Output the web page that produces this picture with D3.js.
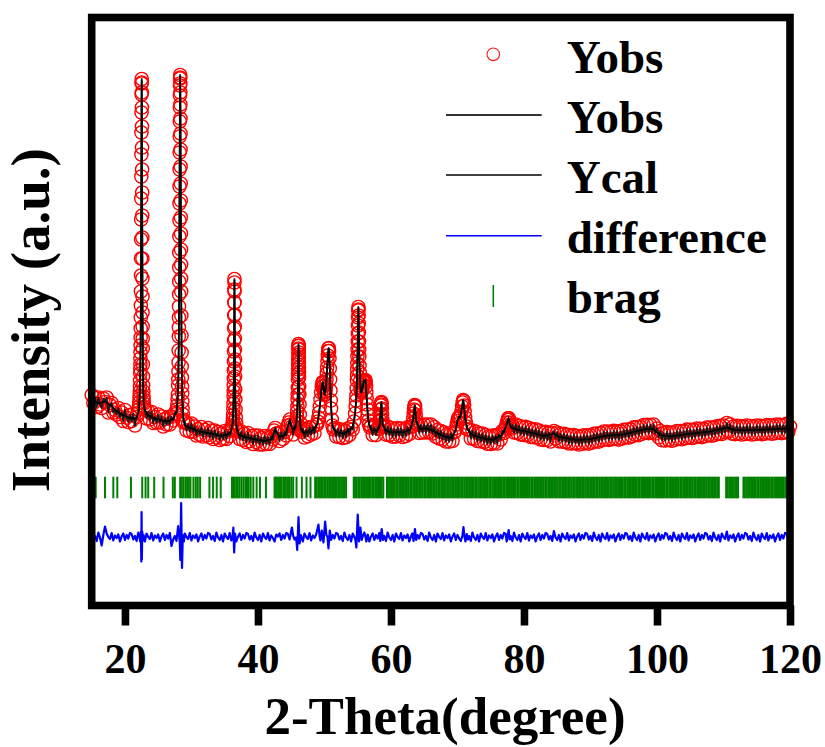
<!DOCTYPE html>
<html><head><meta charset="utf-8">
<script src="https://cdn.jsdelivr.net/npm/d3@7/dist/d3.min.js"></script>
<style>body{margin:0;background:#fff}svg{display:block}</style>
</head><body>
<svg id="c" width="825" height="747"></svg>
<script>
// ---------------- data ----------------
const xTicks = [20, 40, 60, 80, 100, 120];
const xTitle = "2-Theta(degree)";
const yTitle = "Intensity (a.u.)";
const legendLabels = ["Yobs", "Yobs", "Ycal", "difference", "brag"];

// observed intensity [2theta, counts]
const yobs = [
[15.0,2105],[15.25,2025],[15.5,2075],[15.75,1985],[16.0,2080],[16.25,2010],[16.5,1975],[16.75,2070],[17.0,2035],[17.25,2080],[17.5,1930],[17.75,2005],[18.0,2025],[18.25,1930],[18.5,1955],[18.75,1910],[19.0,1975],[19.25,1885],[19.5,1930],[19.75,1845],[20.0,1955],[20.25,1878],[20.5,1835],[20.75,1905],[21.0,1845],[21.25,1915],[21.5,1800],[21.75,1885],[22.0,1925],
[22.08,1960],[22.12,1990],[22.16,2030],[22.2,2070],[22.22,2100],[22.24,2140],[22.26,2190],[22.28,2250],[22.3,2320],[22.31,2360],[22.32,2410],[22.33,2470],[22.34,2530],[22.35,2600],[22.36,2680],[22.37,2770],[22.38,2880],[22.39,3000],[22.4,3140],[22.41,3300],[22.42,3470],[22.43,3660],[22.44,3860],[22.45,4070],[22.46,4290],[22.47,4510],[22.48,4730],[22.49,4930],[22.5,5110],[22.51,5220],[22.52,5265],[22.53,5230],[22.54,5130],[22.55,4980],[22.56,4790],[22.57,4580],[22.58,4360],[22.59,4130],[22.6,3900],[22.61,3680],[22.62,3470],[22.63,3270],[22.64,3090],[22.65,2930],[22.66,2790],[22.67,2670],[22.68,2570],[22.7,2410],[22.72,2290],[22.74,2200],[22.76,2140],[22.78,2090],[22.8,2060],[22.84,2020],[22.9,1985],[22.95,1960],
[23.0,1960],[23.25,1870],[23.5,1940],[23.75,1860],[24.0,1935],[24.25,1825],[24.5,1885],[24.75,1830],[25.0,1910],[25.25,1830],[25.5,1890],[25.75,1790],[26.0,1865],[26.25,1810],[26.5,1885],[26.75,1810],[27.0,1890],[27.25,1850],[27.5,1925],[27.7,1915],
[27.8,1960],[27.86,2000],[27.92,2060],[27.96,2110],[28.0,2200],[28.02,2260],[28.04,2340],[28.06,2430],[28.08,2550],[28.1,2690],[28.11,2780],[28.12,2880],[28.13,2990],[28.14,3110],[28.15,3240],[28.16,3380],[28.17,3530],[28.18,3690],[28.19,3850],[28.2,4020],[28.21,4190],[28.22,4360],[28.23,4530],[28.24,4690],[28.25,4840],[28.26,4980],[28.27,5100],[28.28,5200],[28.29,5270],[28.3,5305],[28.31,5280],[28.32,5220],[28.33,5130],[28.34,5010],[28.35,4870],[28.36,4720],[28.37,4560],[28.38,4390],[28.39,4220],[28.4,4050],[28.41,3880],[28.42,3720],[28.43,3560],[28.44,3410],[28.45,3270],[28.46,3140],[28.48,2900],[28.5,2700],[28.52,2530],[28.54,2390],[28.56,2280],[28.58,2190],[28.6,2120],[28.63,2040],[28.67,1970],[28.72,1910],[28.78,1860],[28.85,1830],
[29.0,1840],[29.25,1750],[29.5,1815],[29.75,1738],[30.0,1820],[30.25,1737],[30.5,1790],[30.75,1700],[31.0,1765],[31.25,1707],[31.5,1785],[31.75,1690],[32.0,1755],[32.25,1698],[32.5,1775],[32.75,1682],[33.0,1750],[33.25,1665],[33.5,1750],[33.75,1680],[34.0,1735],[34.25,1655],[34.5,1720],[34.75,1665],[35.0,1745],[35.25,1665],[35.5,1740],[35.75,1695],[36.0,1760],
[36.1,1780],[36.15,1800],[36.2,1830],[36.24,1870],[36.27,1910],[36.3,1970],[36.32,2020],[36.34,2090],[36.35,2140],[36.36,2200],[36.37,2270],[36.38,2350],[36.39,2440],[36.4,2540],[36.41,2650],[36.42,2770],[36.43,2900],[36.44,3030],[36.45,3160],[36.46,3265],[36.47,3230],[36.48,3140],[36.49,3030],[36.5,2910],[36.51,2790],[36.52,2670],[36.53,2560],[36.54,2460],[36.55,2370],[36.56,2290],[36.58,2160],[36.6,2060],[36.63,1960],[36.67,1880],[36.72,1820],[36.8,1770],[36.9,1740],
[37.0,1750],[37.25,1665],[37.5,1740],[37.75,1655],[38.0,1715],[38.25,1635],[38.5,1725],[38.75,1642],[39.0,1695],[39.25,1615],[39.5,1700],[39.75,1633],[40.0,1700],[40.25,1610],[40.5,1678],[40.75,1610],[41.0,1695],[41.25,1615],[41.5,1685],[41.75,1615],[42.0,1690],[42.25,1660],[42.45,1750],[42.6,1775],[42.75,1720],[43.0,1725],[43.25,1645],[43.5,1730],[43.75,1665],[44.0,1735],[44.25,1700],[44.5,1800],[44.65,1830],[44.8,1860],[44.95,1810],[45.1,1790],[45.3,1710],[45.5,1790],[45.65,1770],[45.75,1820],
[45.82,1850],[45.86,1890],[45.9,1940],[45.93,1990],[45.96,2060],[45.98,2110],[46.0,2180],[46.02,2260],[46.03,2310],[46.04,2360],[46.05,2410],[46.06,2460],[46.07,2510],[46.08,2560],[46.09,2595],[46.1,2615],[46.11,2600],[46.12,2570],[46.13,2530],[46.14,2480],[46.15,2430],[46.16,2380],[46.17,2330],[46.18,2280],[46.2,2190],[46.22,2110],[46.25,2010],[46.29,1910],[46.34,1830],[46.4,1780],[46.5,1750],[46.6,1735],
[46.75,1765],[47.0,1680],[47.25,1763],[47.5,1692],[47.75,1781],[48.0,1710],[48.25,1788],[48.5,1723],[48.75,1805],
[48.9,1810],[49.0,1840],[49.1,1880],[49.2,1930],[49.3,1990],[49.4,2060],[49.5,2130],[49.6,2190],[49.7,2225],[49.75,2235],[49.8,2225],[49.85,2190],[49.9,2160],[49.95,2130],[50.0,2110],[50.05,2105],[50.1,2115],[50.15,2140],[50.2,2170],[50.25,2210],[50.3,2260],[50.35,2320],[50.4,2380],[50.45,2440],[50.5,2500],[50.55,2545],[50.6,2570],[50.65,2575],[50.7,2545],[50.75,2470],[50.8,2370],[50.85,2260],[50.9,2150],[50.95,2050],[51.0,1970],[51.1,1860],[51.2,1800],[51.35,1760],
[51.5,1775],[51.75,1690],[52.0,1767],[52.25,1685],[52.5,1760],[52.75,1675],[53.0,1750],[53.25,1682],[53.5,1770],[53.75,1705],[54.0,1785],[54.25,1760],[54.45,1840],
[54.6,1920],[54.7,1990],[54.76,2050],[54.8,2100],[54.84,2170],[54.88,2250],[54.9,2300],[54.92,2360],[54.94,2420],[54.96,2490],[54.98,2560],[55.0,2640],[55.02,2720],[55.04,2800],[55.06,2880],[55.08,2950],[55.1,2985],[55.12,2960],[55.14,2900],[55.16,2820],[55.18,2730],[55.2,2640],[55.22,2560],[55.24,2490],[55.27,2400],[55.3,2330],[55.35,2240],[55.4,2180],[55.45,2150],[55.5,2130],[55.55,2130],[55.6,2140],[55.65,2150],[55.7,2170],[55.75,2190],[55.8,2210],[55.85,2230],[55.9,2240],[55.95,2250],[56.0,2245],[56.05,2240],[56.1,2250],[56.15,2255],[56.2,2230],[56.25,2190],[56.3,2130],[56.35,2070],[56.4,2010],[56.45,1960],[56.5,1910],[56.6,1850],[56.7,1810],[56.85,1780],
[57.0,1795],[57.25,1705],[57.5,1783],[57.75,1703],[58.0,1775],[58.2,1765],
[58.3,1810],[58.36,1850],[58.42,1910],[58.46,1960],[58.5,2000],[58.53,2025],[58.56,2035],[58.59,2010],[58.62,1970],[58.66,1910],[58.7,1860],[58.76,1810],[58.85,1785],
[59.0,1790],[59.25,1708],[59.5,1790],[59.75,1705],[60.0,1775],[60.25,1687],[60.5,1765],[60.75,1690],[61.0,1775],[61.25,1700],[61.5,1770],[61.75,1685],[62.0,1762],[62.25,1695],[62.5,1783],[62.75,1715],[63.0,1785],
[63.15,1790],[63.25,1820],[63.35,1870],[63.42,1920],[63.48,1960],[63.54,1995],[63.58,2005],[63.62,1990],[63.67,1950],[63.72,1900],[63.8,1850],[63.9,1810],
[64.0,1810],[64.25,1725],[64.5,1805],[64.75,1730],[65.0,1810],[65.25,1730],[65.5,1810],[65.75,1732],[66.0,1810],[66.25,1720],[66.5,1785],[66.75,1687],[67.0,1755],[67.25,1670],[67.5,1745],[67.75,1660],[68.0,1730],[68.25,1640],[68.5,1717],[68.75,1638],[69.0,1720],[69.25,1645],[69.5,1730],
[69.65,1740],[69.8,1775],[69.9,1810],[70.0,1845],[70.1,1870],[70.2,1885],[70.3,1880],[70.4,1880],[70.5,1900],[70.6,1940],[70.7,1990],[70.78,2030],[70.85,2055],[70.92,2045],[71.0,2000],[71.08,1940],[71.16,1880],[71.25,1830],[71.35,1790],[71.5,1760],
[71.75,1760],[72.0,1670],[72.25,1750],[72.5,1667],[72.75,1740],[73.0,1645],[73.25,1720],[73.5,1640],[73.75,1720],[74.0,1635],[74.25,1705],[74.5,1617],[74.75,1693],[75.0,1615],[75.25,1700],[75.5,1623],[75.75,1702],[76.0,1620],[76.25,1710],[76.5,1660],[76.75,1745],[77.0,1725],
[77.2,1770],[77.35,1800],[77.45,1830],[77.55,1855],[77.62,1870],[77.68,1875],[77.75,1860],[77.82,1830],[77.9,1800],[78.0,1785],[78.15,1770],
[78.25,1805],[78.5,1730],[78.75,1810],[79.0,1725],[79.25,1797],[79.5,1708],[79.75,1785],[80.0,1705],[80.25,1787],[80.5,1703],[80.75,1774],[81.0,1685],[81.25,1761],[81.5,1682],[81.75,1763],[82.0,1680],[82.25,1750],[82.5,1660],[82.75,1735],[83.0,1655],[83.25,1737],[83.5,1655],[83.75,1728],[84.0,1640],[84.25,1725],[84.5,1745],[84.75,1670],[85.0,1730],[85.25,1641],[85.5,1717],[85.75,1638],[86.0,1717],[86.25,1635],[86.5,1708],[86.75,1620],[87.0,1698],[87.25,1621],[87.5,1704],[87.75,1622],[88.0,1695],[88.25,1610],[88.5,1691],[88.75,1617],[89.0,1703],[89.25,1624],[89.5,1701],[89.75,1618],[90.0,1700],[90.25,1628],[90.5,1717],[90.75,1641],[91.0,1720],[91.25,1639],[91.5,1723],[91.75,1652],[92.0,1740],[92.25,1662],[92.5,1739],[92.75,1656],[93.0,1737],[93.25,1662],[93.5,1747],[93.75,1667],[94.0,1742],[94.25,1659],[94.5,1741],[94.75,1669],[95.0,1757],[95.25,1681],[95.5,1760],[95.75,1679],[96.0,1762],[96.25,1691],[96.5,1781],[96.75,1706],[97.0,1785],[97.25,1704],[97.5,1788],[97.75,1717],[98.0,1805],[98.25,1728],[98.5,1806],[98.75,1723],[99.0,1805],[99.25,1729],[99.5,1810],[99.75,1720],[100.0,1770],[100.25,1682],[100.5,1745],[100.75,1652],[101.0,1725],[101.25,1650],[101.5,1735],[101.75,1655],[102.0,1730],[102.25,1647],[102.5,1730],[102.75,1657],[103.0,1745],[103.25,1667],[103.5,1745],[103.75,1662],[104.0,1745],[104.25,1672],[104.5,1759],[104.75,1681],[105.0,1758],[105.25,1675],[105.5,1756],[105.75,1683],[106.0,1770],[106.25,1691],[106.5,1768],[106.75,1684],[107.0,1765],[107.25,1693],[107.5,1780],[107.75,1703],[108.0,1780],[108.25,1697],[108.5,1779],[108.75,1706],[109.0,1793],[109.25,1717],[109.5,1796],[109.75,1715],[110.0,1800],[110.25,1732],[110.5,1825],[110.75,1741],[111.0,1812],[111.25,1718],[111.5,1790],[111.75,1713],[112.0,1797],[112.25,1718],[112.5,1794],[112.75,1710],[113.0,1790],[113.25,1715],[113.5,1800],[113.75,1720],[114.0,1795],[114.25,1710],[114.5,1790],[114.75,1715],[115.0,1800],[115.25,1721],[115.5,1797],[115.75,1713],[116.0,1793],[116.25,1719],[116.5,1805],[116.75,1725],[117.0,1801],[117.25,1717],[117.5,1798],[117.75,1724],[118.0,1810],[118.25,1731],[118.5,1807],[118.75,1723],[119.0,1804],[119.25,1730],[119.5,1816],[119.75,1737],[120.0,1792]];

// calculated profile [2theta, counts]
const ycal = [[15.0,2060],[16,2020],[17,2040],[18,1995],[19,1930],[20,1895],[21,1870],[21.8,1875],[22.1,1960],[22.2,2060],[22.3,2310],[22.36,2670],[22.4,3130],[22.44,3850],[22.48,4720],[22.52,5250],[22.56,4780],[22.6,3890],[22.64,3080],[22.68,2560],[22.72,2280],[22.8,2055],[22.95,1960],[23.5,1900],[24.5,1870],[25.5,1850],[26.5,1840],[27.3,1870],[27.8,1955],[28.0,2195],[28.08,2545],[28.14,3105],[28.2,4015],[28.26,4975],[28.3,5295],[28.34,5005],[28.4,4045],[28.46,3135],[28.54,2385],[28.62,2070],[28.73,1905],[29,1800],[30,1770],[31,1745],[32,1730],[33,1720],[34,1700],[35,1700],[35.9,1730],[36.2,1825],[36.3,1965],[36.37,2265],[36.42,2765],[36.46,3255],[36.5,2905],[36.55,2365],[36.62,1995],[36.75,1795],[37,1715],[38,1685],[39,1670],[40,1655],[41,1645],[42,1660],[42.6,1765],[43.2,1690],[44,1700],[44.8,1850],[45.1,1770],[45.5,1760],[45.8,1845],[45.96,2055],[46.02,2255],[46.1,2605],[46.18,2275],[46.25,2005],[46.4,1778],[46.8,1727],[48,1740],[48.9,1805],[49.3,1985],[49.6,2185],[49.75,2230],[50.0,2108],[50.2,2168],[50.4,2378],[50.65,2570],[50.8,2368],[50.95,2048],[51.2,1800],[51.7,1733],[53,1720],[54.2,1780],[54.6,1918],[54.8,2098],[54.9,2298],[55.0,2638],[55.1,2980],[55.2,2638],[55.3,2328],[55.5,2128],[55.75,2188],[55.95,2248],[56.15,2250],[56.35,2068],[56.6,1848],[57,1755],[58,1748],[58.3,1808],[58.56,2030],[58.76,1808],[59.2,1750],[60,1732],[62,1735],[62.9,1760],[63.35,1868],[63.58,2000],[63.8,1848],[64.4,1765],[65.2,1772],[66.4,1742],[68,1690],[69,1675],[69.65,1738],[70.0,1843],[70.2,1882],[70.4,1878],[70.85,2050],[71.16,1878],[71.5,1758],[72.3,1702],[74,1670],[75.3,1657],[76.7,1708],[77.3,1790],[77.68,1870],[78.0,1783],[79,1758],[81,1730],[83,1695],[84.5,1720],[85.3,1688],[88,1655],[90,1665],[92,1695],[95,1712],[98.3,1762],[99.3,1769],[100.5,1705],[102,1690],[105,1718],[108,1740],[110.5,1780],[111.8,1753],[115,1755],[120,1772]];

// difference curve (offset) [2theta, counts]
const diff = [[15.0,715],[15.25,660],[15.5,695],[15.75,645],[16.0,730],[16.25,680],[16.5,600],[16.75,705],[17.0,790],[17.25,720],[17.5,685],[17.75,665],[18.0,725],[18.25,650],[18.5,700],[18.75,675],[19.0,710],[19.25,640],[19.5,690],[19.75,720],[20.0,655],[20.25,705],[20.5,670],[20.75,725],[21.0,715],[21.25,660],[21.5,695],[21.75,645],[22.0,730],[22.2,680],[22.3,640],[22.4,740],[22.46,440],[22.5,935],[22.54,460],[22.6,740],[22.7,650],[22.8,705],
[23.0,640],[23.25,720],[23.5,685],[23.75,665],[24.0,725],[24.25,650],[24.5,700],[24.75,675],[25.0,710],[25.25,640],[25.5,690],[25.75,720],[26.0,655],[26.25,705],[26.5,670],[26.75,725],[27.0,595],[27.25,660],[27.5,695],[27.75,645],[28.0,795],[28.15,690],[28.25,640],[28.32,455],[28.45,1025],[28.58,375],[28.7,705],[28.85,640],
[29.0,720],[29.25,685],[29.5,665],[29.75,725],[30.0,650],[30.25,700],[30.5,675],[30.75,710],[31.0,640],[31.25,690],[31.5,720],[31.75,655],[32.0,705],[32.25,670],[32.5,725],[32.75,715],[33.0,660],[33.25,695],[33.5,645],[33.75,730],[34.0,680],[34.25,655],[34.5,705],[34.75,640],[35.0,720],[35.25,685],[35.5,665],[35.75,725],[36.0,650],[36.2,700],[36.3,780],[36.42,530],[36.55,720],[36.75,640],
[37.0,690],[37.25,720],[37.5,655],[37.75,705],[38.0,670],[38.25,725],[38.5,715],[38.75,660],[39.0,695],[39.25,645],[39.5,730],[39.75,680],[40.0,655],[40.25,705],[40.5,640],[40.75,720],[41.0,685],[41.25,665],[41.5,725],[41.75,650],[42.0,700],[42.25,675],[42.5,640],[42.75,710],[43.0,690],[43.25,720],[43.5,655],[43.75,705],[44.0,670],[44.25,725],[44.5,715],[44.75,660],[45.1,780],[45.3,695],[45.5,660],[45.75,680],[45.9,555],[46.1,885],[46.25,620],[46.45,705],
[46.75,640],[47.0,720],[47.25,685],[47.5,665],[47.75,725],[48.0,650],[48.25,700],[48.5,675],[48.75,710],[49.1,810],[49.25,700],[49.4,650],[49.6,750],[49.85,630],[50.1,840],[50.3,700],[50.45,690],[50.6,570],[50.8,750],[51.0,655],[51.25,705],[51.5,670],[51.75,725],[52.0,715],[52.25,660],[52.5,695],[52.75,645],[53.0,730],[53.25,680],[53.5,655],[53.75,705],[54.0,640],[54.25,720],[54.5,685],[54.65,660],[54.8,580],[55.0,910],[55.2,640],[55.4,780],[55.6,655],[55.8,700],[56.0,730],[56.15,690],[56.3,640],[56.5,710],[56.75,640],
[57.0,690],[57.25,720],[57.5,655],[57.75,705],[58.0,670],[58.25,725],[58.4,645],[58.6,765],[58.8,655],[59.0,695],[59.25,645],[59.5,730],[59.75,680],[60.0,655],[60.25,705],[60.5,640],[60.75,720],[61.0,685],[61.25,665],[61.5,725],[61.75,650],[62.0,700],[62.25,675],[62.5,710],[62.75,640],[63.0,690],[63.2,720],[63.4,645],[63.6,765],[63.8,655],[64.0,705],[64.25,670],[64.5,725],[64.75,715],[65.0,660],[65.25,695],[65.5,645],[65.75,730],[66.0,680],[66.25,655],[66.5,705],[66.75,640],[67.0,720],[67.25,685],[67.5,665],[67.75,725],[68.0,650],[68.25,700],[68.5,675],[68.75,710],[69.0,640],[69.25,690],[69.5,720],[69.75,655],[70.0,705],[70.25,670],[70.5,645],[70.75,700],[70.9,785],[71.05,690],[71.2,640],[71.4,715],[71.6,660],
[71.75,695],[72.0,645],[72.25,730],[72.5,680],[72.75,655],[73.0,705],[73.25,640],[73.5,720],[73.75,685],[74.0,665],[74.25,725],[74.5,650],[74.75,700],[75.0,675],[75.25,710],[75.5,640],[75.75,690],[76.0,720],[76.25,655],[76.5,705],[76.75,670],[77.0,725],[77.25,715],[77.4,640],[77.7,755],[77.85,660],[78.0,695],[78.25,645],[78.5,730],[78.75,680],[79.0,655],[79.25,705],[79.5,640],[79.75,720],[80.0,685],[80.25,665],[80.5,725],[80.75,650],[81.0,700],[81.25,675],[81.5,710],[81.75,640],[82.0,690],[82.25,720],[82.5,655],[82.75,705],[83.0,670],[83.25,725],[83.5,715],[83.75,660],[84.0,695],[84.25,645],[84.5,745],[84.75,680],[85.0,655],[85.25,705],[85.5,640],[85.75,720],[86.0,685],[86.25,665],[86.5,725],[86.75,650],[87.0,700],[87.25,675],[87.5,710],[87.75,640],[88.0,690],[88.25,720],[88.5,655],[88.75,705],[89.0,670],[89.25,725],[89.5,715],[89.75,660],[90.0,695],[90.25,645],[90.5,730],[90.75,680],[91.0,655],[91.25,705],[91.5,640],[91.75,720],[92.0,685],[92.25,665],[92.5,725],[92.75,650],[93.0,700],[93.25,675],[93.5,710],[93.75,640],[94.0,690],[94.25,720],[94.5,655],[94.75,705],[95.0,670],[95.25,725],[95.5,715],[95.75,660],[96.0,695],[96.25,645],[96.5,730],[96.75,680],[97.0,655],[97.25,705],[97.5,640],[97.75,720],[98.0,685],[98.25,665],[98.5,725],[98.75,650],[99.0,700],[99.25,675],[99.5,710],[99.75,640],[100.0,690],[100.25,720],[100.5,655],[100.75,705],[101.0,670],[101.25,725],[101.5,715],[101.75,660],[102.0,695],[102.25,645],[102.5,730],[102.75,680],[103.0,655],[103.25,705],[103.5,640],[103.75,720],[104.0,685],[104.25,665],[104.5,725],[104.75,650],[105.0,700],[105.25,675],[105.5,710],[105.75,640],[106.0,690],[106.25,720],[106.5,655],[106.75,705],[107.0,670],[107.25,725],[107.5,715],[107.75,660],[108.0,695],[108.25,645],[108.5,730],[108.75,680],[109.0,655],[109.25,705],[109.5,640],[109.75,720],[110.0,685],[110.25,665],[110.5,740],[110.75,650],[111.0,700],[111.25,675],[111.5,710],[111.75,640],[112.0,690],[112.25,720],[112.5,655],[112.75,705],[113.0,670],[113.25,725],[113.5,715],[113.75,660],[114.0,695],[114.25,645],[114.5,730],[114.75,680],[115.0,655],[115.25,705],[115.5,640],[115.75,720],[116.0,685],[116.25,665],[116.5,725],[116.75,650],[117.0,700],[117.25,675],[117.5,710],[117.75,640],[118.0,690],[118.25,720],[118.5,655],[118.75,705],[119.0,670],[119.25,725],[119.5,715],[119.75,660],[120.0,695]];

// Bragg reflection positions (2theta) and the level of the tick row
const braggLevel = 1180;
const bragg = [15.6,17.0,18.25,18.85,20.9,22.6,23.1,23.5,24.4,25.8,27.2,27.5,28.3,28.55,28.8,29.1,29.35,29.6,29.85,30.3,30.65,30.95,31.3,32.7,33.25,33.8,34.4,36.1,36.3,36.5,36.75,36.95,37.2,37.5,37.8,38.1,38.35,38.6,38.9,39.3,39.8,40.3,41.2,42.5,42.7,42.9,43.1,43.3,43.5,43.8,44.0,44.2,44.5,44.7,45.0,45.3,45.8,46.6,47.3,47.9,
48.6,48.8,49.05,49.3,49.5,49.75,50.0,50.2,50.45,50.7,50.9,51.15,51.4,51.6,51.85,52.1,52.3,52.55,52.8,53.0,53.25,
54.4,54.6,54.85,55.1,55.3,55.55,55.8,56.0,56.25,56.5,56.7,56.95,57.2,57.4,57.65,57.9,58.1,58.35,58.6,58.85,
59.4,59.6,59.85,60.1,60.3,60.55,60.8,61.0,61.25,61.5,61.7,61.95,62.2,62.4,62.65,62.9,63.1,63.35,63.6,63.8,64.05,64.3,64.5,64.75,65.0,65.2,65.45,65.7,65.9,66.15,66.4,66.6,66.85,67.1,67.3,67.55,67.8,68.0,68.25,68.5,68.7,68.95,
69.2,69.4,69.65,69.9,70.1,70.35,70.6,70.8,71.05,71.3,71.5,71.75,72.0,72.2,72.45,72.7,72.9,73.15,73.4,73.6,73.85,74.1,74.3,74.55,74.8,75.0,75.25,75.5,75.7,75.95,76.2,76.4,76.65,76.9,77.1,77.35,77.6,77.8,78.05,78.3,78.5,78.75,79.0,79.2,79.45,79.7,79.9,
80.15,80.4,80.6,80.85,81.1,81.3,81.55,81.8,82.0,82.25,82.5,82.7,82.95,83.2,83.4,83.65,83.9,84.1,84.35,84.6,84.8,85.05,85.3,85.5,85.75,86.0,86.2,86.45,86.7,86.9,87.15,87.4,87.6,87.85,88.1,88.3,88.55,88.8,89.0,89.25,89.5,89.7,89.95,
90.2,90.4,90.65,90.9,91.1,91.35,91.6,91.8,92.05,92.3,92.5,92.75,93.0,93.2,93.45,93.7,93.9,94.15,94.4,94.6,94.85,95.1,95.3,95.55,95.8,96.0,96.25,96.5,96.7,96.95,97.2,97.4,97.65,97.9,98.1,98.35,98.6,98.8,99.05,99.3,99.5,99.75,
100.0,100.2,100.45,100.7,100.9,101.15,101.4,101.6,101.85,102.1,102.3,102.55,102.8,103.0,103.25,103.5,103.7,103.95,104.2,104.4,104.65,104.9,105.1,105.35,105.6,105.8,106.05,106.3,106.5,106.75,107.0,107.2,107.45,107.7,107.9,108.15,108.4,108.6,108.85,109.1,109.3,
110.4,110.6,110.85,111.1,111.3,111.55,111.8,112.0,112.2,
113.0,113.2,113.45,113.7,113.9,114.15,114.4,114.6,114.85,115.1,115.3,115.55,115.8,116.0,116.25,116.5,116.7,116.95,117.2,117.4,117.65,117.9,118.1,118.35,118.6,118.8,119.05,119.3,119.5,119.75,119.95];

// ---------------- drawing ----------------
const FONT = "'Liberation Serif','Times New Roman',serif";
const box = {l: 91.7, r: 790, t: 17.5, b: 605.5};
const svg = d3.select("#c");
const x = d3.scaleLinear().domain([15, 120]).range([box.l, box.r]);
const y = d3.scaleLinear().domain([0, 5880]).range([box.b, box.t]);

const plot = svg.append("g");

// observed: circles
plot.append("g").selectAll("circle").data(yobs).join("circle")
  .attr("cx", d => x(d[0])).attr("cy", d => y(d[1])).attr("r", 6.6)
  .attr("fill", "none").attr("stroke", "#ff0000").attr("stroke-width", 1.4);

const line = d3.line().x(d => x(d[0])).y(d => y(d[1]));
// observed: line
plot.append("path").datum(yobs).attr("d", line)
  .attr("fill", "none").attr("stroke", "#1a1a1a").attr("stroke-width", 1.8).attr("stroke-linejoin", "round");
// calculated
plot.append("path").datum(ycal).attr("d", line)
  .attr("fill", "none").attr("stroke", "#000").attr("stroke-width", 1.6);
// difference
plot.append("path").datum(diff).attr("d", line)
  .attr("fill", "none").attr("stroke", "#0000ff").attr("stroke-width", 2.2).attr("stroke-linejoin", "round");
// bragg ticks
plot.append("g").selectAll("line").data(bragg).join("line")
  .attr("x1", d => x(d)).attr("x2", d => x(d))
  .attr("y1", y(braggLevel) - 10.8).attr("y2", y(braggLevel) + 10.8)
  .attr("stroke", "#008000").attr("stroke-width", 2);

// frame
svg.append("rect").attr("x", box.l).attr("y", box.t)
  .attr("width", box.r - box.l).attr("height", box.b - box.t)
  .attr("fill", "none").attr("stroke", "#000").attr("stroke-width", 7.6);

// x axis
const ax = svg.append("g").attr("transform", `translate(0,${box.b})`)
  .call(d3.axisBottom(x).tickValues(xTicks).tickFormat(d3.format("d")).tickSizeInner(20).tickSizeOuter(0).tickPadding(0));
ax.select(".domain").remove();
ax.selectAll(".tick line").attr("stroke", "#000").attr("stroke-width", 7.6);
ax.selectAll(".tick text").attr("y", 67.5).attr("dy", null)
  .attr("font-family", FONT).attr("font-weight", "bold").attr("font-size", 42).attr("fill", "#000");

// titles
svg.append("text").attr("x", 445).attr("y", 734).attr("text-anchor", "middle")
  .attr("font-family", FONT).attr("font-weight", "bold").attr("font-size", 53).text(xTitle);
svg.append("text").attr("transform", "translate(49,320) rotate(-90)").attr("text-anchor", "middle")
  .attr("font-family", FONT).attr("font-weight", "bold").attr("font-size", 55).text(yTitle);

// legend
const lg = svg.append("g");
const rowY = [54.3, 115, 175, 235.7, 296];
const baseY = [73.3, 133.3, 193.3, 252.7, 313];
lg.append("circle").attr("cx", 493.3).attr("cy", rowY[0]).attr("r", 6.3)
  .attr("fill", "none").attr("stroke", "#ff1a1a").attr("stroke-width", 1.1);
lg.append("line").attr("x1", 446).attr("x2", 541.7).attr("y1", rowY[1]).attr("y2", rowY[1]).attr("stroke", "#333").attr("stroke-width", 2);
lg.append("line").attr("x1", 446).attr("x2", 541.7).attr("y1", rowY[2]).attr("y2", rowY[2]).attr("stroke", "#000").attr("stroke-width", 1.4);
lg.append("line").attr("x1", 446).attr("x2", 541.7).attr("y1", rowY[3]).attr("y2", rowY[3]).attr("stroke", "#0000ff").attr("stroke-width", 1.4);
lg.append("line").attr("x1", 493.3).attr("x2", 493.3).attr("y1", rowY[4] - 11).attr("y2", rowY[4] + 11).attr("stroke", "#008000").attr("stroke-width", 1.6);
lg.selectAll("text").data(legendLabels).join("text")
  .attr("x", 566.7).attr("y", (d, i) => baseY[i])
  .attr("font-family", FONT).attr("font-weight", "bold").attr("font-size", 47).text(d => d);
</script>
</body></html>
